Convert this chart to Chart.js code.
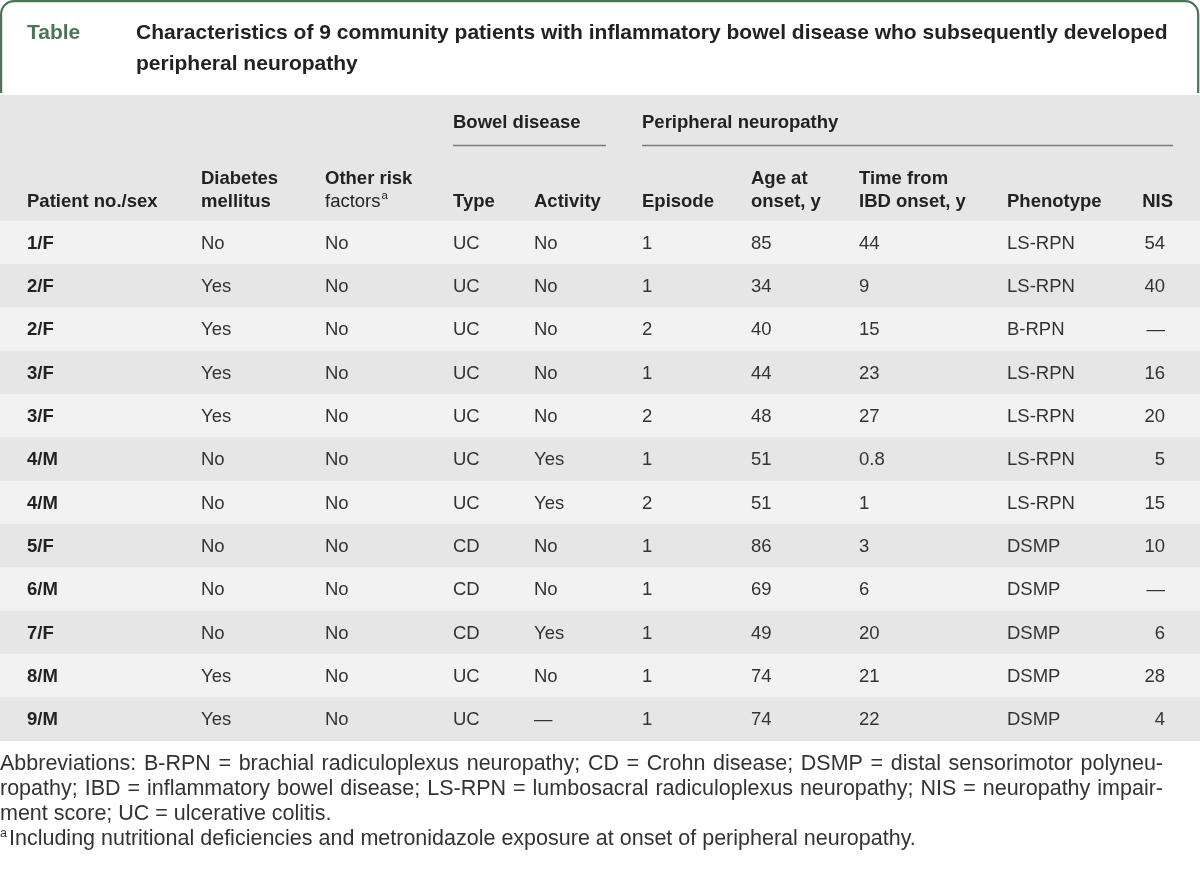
<!DOCTYPE html>
<html>
<head>
<meta charset="utf-8">
<script src="https://cdn.jsdelivr.net/npm/chart.js@4/dist/chart.umd.min.js"></script>
<style>
  html, body { margin: 0; padding: 0; background: #fff; }
  #wrap { width: 1200px; height: 873px; position: relative; }
</style>
</head>
<body>
<div id="wrap"><canvas id="tabla"></canvas></div>
<script>
// datos de la tabla
const patients = ["1/F", "2/F", "2/F", "3/F", "3/F", "4/M", "4/M", "5/F", "6/M", "7/F", "8/M", "9/M"];
const diabetes = ["No", "Yes", "Yes", "Yes", "Yes", "No", "No", "No", "No", "No", "Yes", "Yes"];
const otherRisk = ["No", "No", "No", "No", "No", "No", "No", "No", "No", "No", "No", "No"];
const bowelType = ["UC", "UC", "UC", "UC", "UC", "UC", "UC", "CD", "CD", "CD", "UC", "UC"];
const activity = ["No", "No", "No", "No", "No", "Yes", "Yes", "No", "No", "Yes", "No", null];
const episode = [1, 1, 2, 1, 2, 1, 2, 1, 1, 1, 1, 1];
const ageAtOnset = [85, 34, 40, 44, 48, 51, 51, 86, 69, 49, 74, 74];
const timeFromIbd = [44, 9, 15, 23, 27, 0.8, 1, 3, 6, 20, 21, 22];
const phenotype = ["LS-RPN", "LS-RPN", "B-RPN", "LS-RPN", "LS-RPN", "LS-RPN", "LS-RPN", "DSMP", "DSMP", "DSMP", "DSMP", "DSMP"];
const nis = [54, 40, null, 16, 20, 5, 15, 10, null, 6, 28, 4];

const titleLines = ["Characteristics of 9 community patients with inflammatory bowel disease who subsequently developed", "peripheral neuropathy"];
const footLines = [
    "Abbreviations: B-RPN = brachial radiculoplexus neuropathy; CD = Crohn disease; DSMP = distal sensorimotor polyneu-",
    "ropathy; IBD = inflammatory bowel disease; LS-RPN = lumbosacral radiculoplexus neuropathy; NIS = neuropathy impair-",
    "ment score; UC = ulcerative colitis."
];
const footNoteA = "Including nutritional deficiencies and metronidazole exposure at onset of peripheral neuropathy.";

const DASH = "\u2014";
const show = v => (v === null || v === undefined) ? DASH : String(v);

// columnas: posicion x, alineacion, cabecera
const columns = [
    { x: 27,   head: ["Patient no./sex"],       vals: patients,   bold: true },
    { x: 201,  head: ["Diabetes", "mellitus"],  vals: diabetes },
    { x: 325,  head: ["Other risk", "factors"], vals: otherRisk, sup: true },
    { x: 453,  head: ["Type"],                  vals: bowelType },
    { x: 534,  head: ["Activity"],              vals: activity },
    { x: 642,  head: ["Episode"],               vals: episode },
    { x: 751,  head: ["Age at", "onset, y"],    vals: ageAtOnset },
    { x: 859,  head: ["Time from", "IBD onset, y"], vals: timeFromIbd },
    { x: 1007, head: ["Phenotype"],             vals: phenotype },
    { x: 1165, head: ["NIS"],                   vals: nis, right: true, headX: 1173 }
];

const groups = [
    { label: "Bowel disease", from: 453, to: 606 },
    { label: "Peripheral neuropathy", from: 642, to: 1173 }
];

const FONT = '"Liberation Sans", Arial, sans-serif';
const GREEN = '#4a7655';
const HEAD = 'bold 18.5px ' + FONT;
const BODY = '18.5px ' + FONT;
const FOOT = '21.5px ' + FONT;

const tablePlugin = {
    id: 'tabla',
    beforeDraw(chart) {
        const ctx = chart.ctx;
        const xs = chart.scales.x;
        ctx.save();
        // caja del titulo
        ctx.strokeStyle = GREEN;
        ctx.lineWidth = 2.2;
        ctx.beginPath();
        ctx.moveTo(1.1, 93);
        ctx.lineTo(1.1, 14);
        ctx.arcTo(1.1, 1.1, 14, 1.1, 13);
        ctx.lineTo(1185, 1.1);
        ctx.arcTo(1198.2, 1.1, 1198.2, 14, 13);
        ctx.lineTo(1198.2, 93);
        ctx.stroke();

        ctx.textBaseline = 'alphabetic';
        ctx.font = 'bold 21px ' + FONT;
        ctx.fillStyle = GREEN;
        ctx.fillText("Table", xs.getPixelForValue(27), 38.5);
        ctx.fillStyle = '#222';
        ctx.fillText(titleLines[0], xs.getPixelForValue(136), 38.5);
        ctx.fillText(titleLines[1], xs.getPixelForValue(136), 69.5);

        // banda de cabecera
        ctx.fillStyle = '#e6e6e6';
        ctx.fillRect(0, 95, chart.width, chart.chartArea.top - 95);

        ctx.fillStyle = '#222';
        ctx.font = HEAD;
        groups.forEach(g => {
            ctx.fillText(g.label, xs.getPixelForValue(g.from), 127.5);
            ctx.strokeStyle = '#7a7a7a';
            ctx.lineWidth = 1.3;
            ctx.beginPath();
            ctx.moveTo(xs.getPixelForValue(g.from), 145.5);
            ctx.lineTo(xs.getPixelForValue(g.to), 145.5);
            ctx.stroke();
        });

        const base = [183.5, 206.5];
        columns.forEach(c => {
            const lines = c.head;
            const hx = xs.getPixelForValue(c.headX || c.x);
            ctx.textAlign = c.right ? 'right' : 'left';
            lines.forEach((t, k) => {
                const y = lines.length === 1 ? base[1] : base[k];
                if (c.sup && k === 1) {
                    ctx.font = BODY;
                    ctx.fillText(t, hx, y);
                    const w = ctx.measureText(t).width;
                    ctx.font = '11.5px ' + FONT;
                    ctx.fillText("a", hx + w + 1, y - 7.5);
                    ctx.font = HEAD;
                } else {
                    ctx.fillText(t, hx, y);
                }
            });
        });
        ctx.textAlign = 'left';
        ctx.restore();
    },
    afterDatasetsDraw(chart) {
        const ctx = chart.ctx;
        const xs = chart.scales.x, ys = chart.scales.y;
        ctx.save();
        ctx.textBaseline = 'middle';
        patients.forEach((p, i) => {
            const y = ys.getPixelForValue(i) + 1;
            columns.forEach(c => {
                ctx.font = c.bold ? HEAD : BODY;
                ctx.fillStyle = c.bold ? '#222' : '#333';
                ctx.textAlign = c.right ? 'right' : 'left';
                ctx.fillText(show(c.vals[i]), xs.getPixelForValue(c.x), y);
            });
        });

        // notas al pie, justificadas
        ctx.textAlign = 'left';
        ctx.textBaseline = 'alphabetic';
        ctx.fillStyle = '#333';
        ctx.font = FOOT;
        const right = 1163;
        const baseY = [770, 795, 820];
        footLines.forEach((line, k) => {
            if (k < 2) {
                const words = line.split(' ');
                let wsum = 0;
                words.forEach(w => { wsum += ctx.measureText(w).width; });
                const gap = (right - wsum) / (words.length - 1);
                let x = 0;
                words.forEach(w => {
                    ctx.fillText(w, x, baseY[k]);
                    x += ctx.measureText(w).width + gap;
                });
            } else {
                ctx.fillText(line, 0, baseY[k]);
            }
        });
        ctx.font = '12.5px ' + FONT;
        ctx.fillText("a", 0, 837);
        ctx.font = FOOT;
        ctx.fillText(footNoteA, 9, 845);
        ctx.restore();
    }
};

document.addEventListener("DOMContentLoaded", function () {
    new Chart(document.getElementById("tabla"), {
        type: "bar",
        data: {
            labels: patients,
            datasets: [{
                label: "filas",
                data: patients.map(() => [0, 1200]),
                backgroundColor: patients.map((_, i) => i % 2 ? '#e6e6e6' : '#f2f2f2'),
                borderWidth: 0,
                barPercentage: 1,
                categoryPercentage: 1
            }]
        },
        options: {
            indexAxis: 'y',
            responsive: true,
            maintainAspectRatio: false,
            animation: false,
            devicePixelRatio: 1,
            events: [],
            layout: { padding: { top: 221, bottom: 132, left: 0, right: 0 } },
            scales: {
                x: { type: 'linear', min: 0, max: 1200, display: false },
                y: { display: false }
            },
            plugins: { legend: { display: false }, tooltip: { enabled: false } }
        },
        plugins: [tablePlugin]
    });
});
</script>
</body>
</html>
